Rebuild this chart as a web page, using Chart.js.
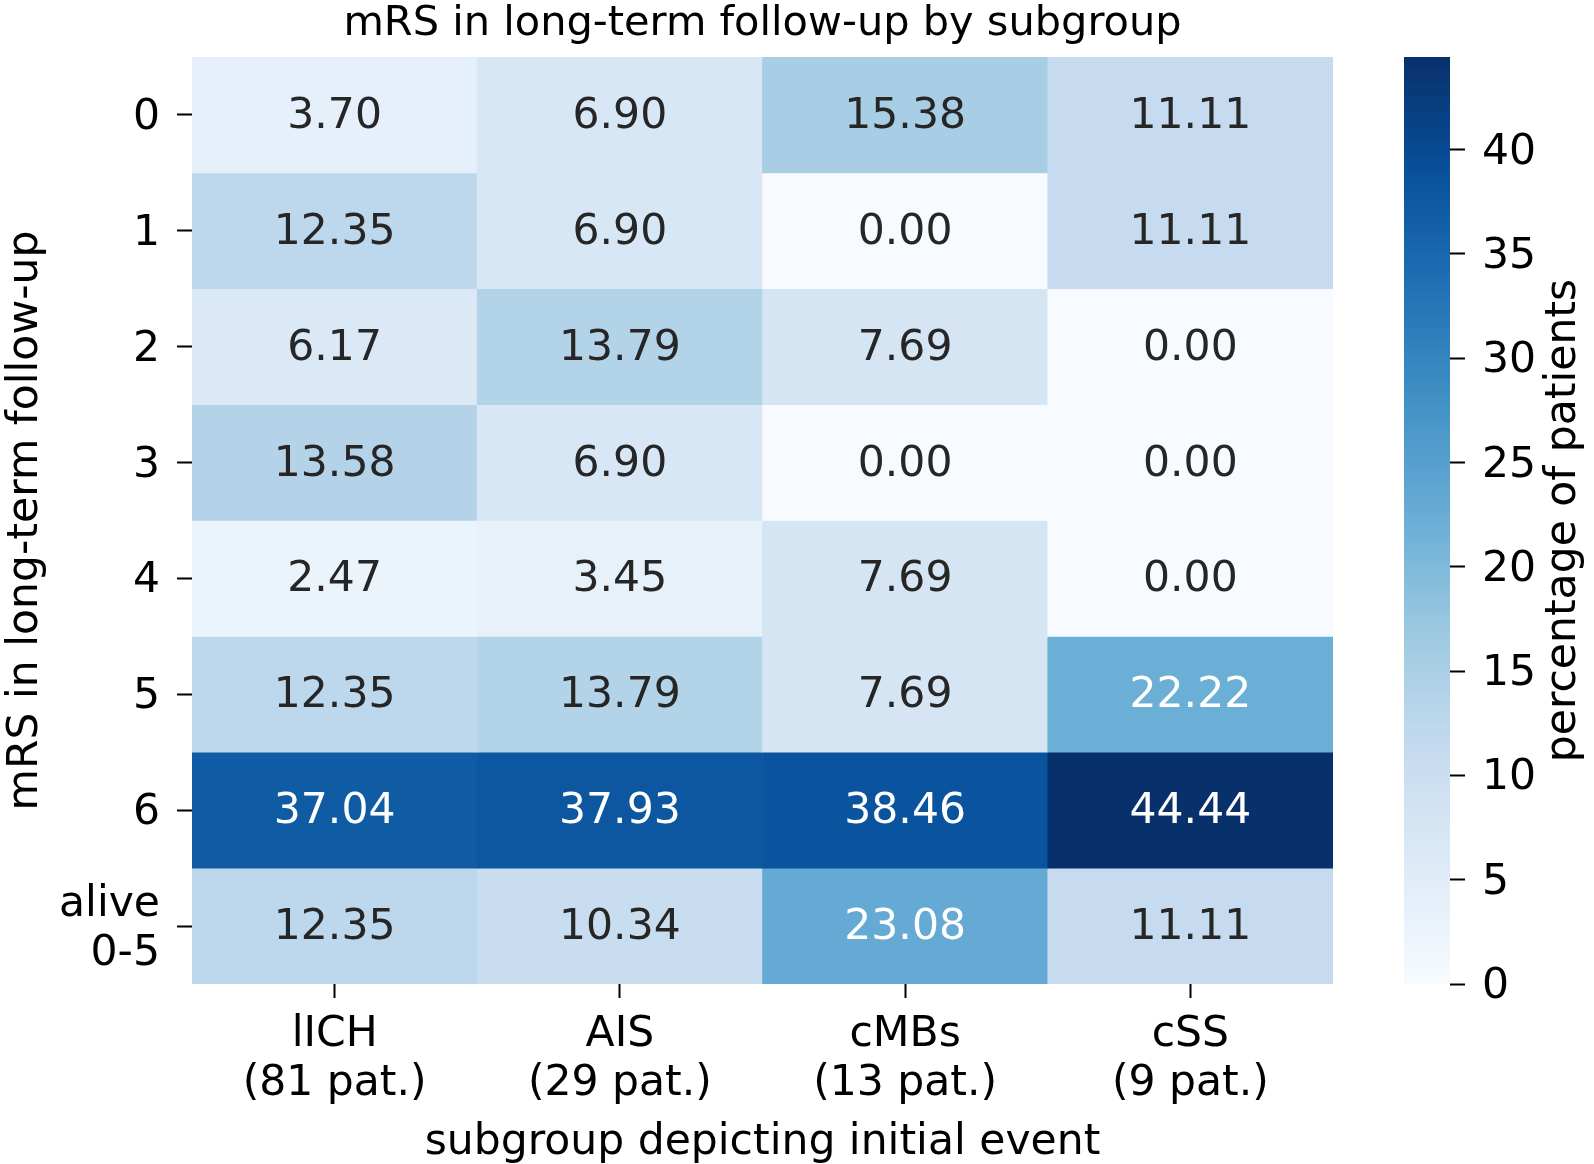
<!DOCTYPE html>
<html>
<head>
<meta charset="utf-8">
<script src="https://cdn.jsdelivr.net/npm/chart.js@4.4.0/dist/chart.umd.min.js"></script>
<style>
  html, body { margin: 0; padding: 0; background: #fff; }
  #wrap { position: relative; width: 1594px; height: 1164px; }
  #heat { position: absolute; left: 0; top: 0; }
  #cbar { position: absolute; left: 1340px; top: 0; }
</style>
</head>
<body>
<div id="wrap">
  <canvas id="heat" width="1594" height="1164" style="width:1594px;height:1164px"></canvas>
  <canvas id="cbar" width="254" height="1164" style="width:254px;height:1164px"></canvas>
</div>
<script>
var subgroups = [['lICH', '(81 pat.)'], ['AIS', '(29 pat.)'], ['cMBs', '(13 pat.)'], ['cSS', '(9 pat.)']];
var mrsLabels = ['0', '1', '2', '3', '4', '5', '6', ['alive', '0-5']];
var lichPct = [3.70, 12.35, 6.17, 13.58, 2.47, 12.35, 37.04, 12.35];
var aisPct = [6.90, 6.90, 13.79, 6.90, 3.45, 13.79, 37.93, 10.34];
var cmbsPct = [15.38, 0.00, 7.69, 0.00, 7.69, 7.69, 38.46, 23.08];
var cssPct = [11.11, 11.11, 0.00, 0.00, 0.00, 22.22, 44.44, 11.11];
var cbTicks = [0, 5, 10, 15, 20, 25, 30, 35, 40];

var columns = [lichPct, aisPct, cmbsPct, cssPct];
var vmax = Math.max.apply(null, [].concat(lichPct, aisPct, cmbsPct, cssPct));

// matplotlib "Blues"
var blues = [[247,251,255],[222,235,247],[198,219,239],[158,202,225],[107,174,214],[66,146,198],[33,113,181],[8,81,156],[8,48,107]];

function bluesRgb(t) {
  t = Math.max(0, Math.min(1, t)) * (blues.length - 1);
  var i = Math.min(Math.floor(t), blues.length - 2), f = t - i;
  return blues[i].map(function (a, k) { return Math.round(a + (blues[i + 1][k] - a) * f); });
}
function rgbStr(c) { return 'rgb(' + c.join(',') + ')'; }

// seaborn's rule for annotation colour
function textColor(v) {
  var lin = bluesRgb(v / vmax).map(function (x) {
    x = x / 255;
    return x <= 0.03928 ? x / 12.92 : Math.pow((x + 0.055) / 1.055, 2.4);
  });
  var lum = 0.2126 * lin[0] + 0.7152 * lin[1] + 0.0722 * lin[2];
  return lum > 0.408 ? '#262626' : '#ffffff';
}

var FONT = 'DejaVu Sans';
var FS = 42.5;      // ticks, labels, annotations
var TITLE_FS = 41.5;
Chart.defaults.font.family = FONT;
Chart.defaults.color = '#000';

var cellLabels = {
  id: 'cellLabels',
  afterDatasetsDraw: function (chart) {
    var ctx = chart.ctx;
    ctx.save();
    ctx.font = FS + 'px "' + FONT + '"';
    ctx.textAlign = 'center';
    ctx.textBaseline = 'middle';
    chart.data.datasets.forEach(function (ds, r) {
      chart.getDatasetMeta(r).data.forEach(function (bar, c) {
        var v = ds.values[c];
        var p = bar.getCenterPoint();
        ctx.fillStyle = textColor(v);
        ctx.fillText(v.toFixed(2), p.x, p.y + 2);
      });
    });
    ctx.restore();
  }
};

var heat = new Chart(document.getElementById('heat'), {
  type: 'bar',
  data: {
    labels: subgroups,
    datasets: mrsLabels.map(function (lab, r) {
      return {
        label: String(lab),
        data: columns.map(function () { return 1; }),
        values: columns.map(function (col) { return col[r]; }),
        backgroundColor: columns.map(function (col) { return rgbStr(bluesRgb(col[r] / vmax)); }),
        borderWidth: 0,
        barPercentage: 1,
        categoryPercentage: 1
      };
    })
  },
  options: {
    responsive: false,
    animation: false,
    layout: { padding: { left: 0, right: 261, top: 0, bottom: 0 } },
    plugins: {
      legend: { display: false },
      tooltip: { enabled: false },
      title: {
        display: true,
        fullSize: false,
        text: 'mRS in long-term follow-up by subgroup',
        color: '#000',
        font: { size: TITLE_FS, weight: 'normal', lineHeight: 1.0 },
        padding: { top: 3, bottom: 57 - TITLE_FS - 3 }
      }
    },
    scales: {
      x: {
        stacked: true,
        border: { display: false },
        grid: { drawOnChartArea: false, offset: false, tickLength: 14, tickWidth: 2, tickColor: '#000' },
        ticks: { font: { size: FS, lineHeight: 1.15 }, color: '#000', padding: 13, maxRotation: 0, autoSkip: false },
        title: { display: true, text: 'subgroup depicting initial event', color: '#000', font: { size: FS, lineHeight: 1.0 }, padding: { top: 0, bottom: 0 } },
        afterFit: function (s) { s.height = 180; s.paddingLeft = 0; s.paddingRight = 0; }
      },
      y: {
        stacked: true,
        reverse: true,
        min: 0,
        max: mrsLabels.length,
        border: { display: false },
        grid: { drawOnChartArea: false, tickLength: 15, tickWidth: 2, tickColor: '#000' },
        ticks: {
          font: { size: FS, lineHeight: 1.15 }, color: '#000', padding: 17, autoSkip: false, labelOffset: 3,
          callback: function (v, i) { return mrsLabels[i]; }
        },
        afterBuildTicks: function (s) {
          s.ticks = mrsLabels.map(function (l, i) { return { value: i + 0.5 }; });
        },
        title: { display: true, text: 'mRS in long-term follow-up', color: '#000', font: { size: FS, lineHeight: 1.2 }, padding: { top: 0 } },
        afterFit: function (s) { s.width = 192; s.paddingTop = 0; s.paddingBottom = 0; }
      }
    }
  },
  plugins: [cellLabels]
});

var cbLabel = {
  id: 'cbLabel',
  afterDraw: function (chart) {
    var ctx = chart.ctx, a = chart.chartArea;
    ctx.save();
    ctx.font = FS + 'px "' + FONT + '"';
    ctx.fillStyle = '#000';
    ctx.textAlign = 'center';
    ctx.textBaseline = 'middle';
    ctx.translate(224, (a.top + a.bottom) / 2);
    ctx.rotate(-Math.PI / 2);
    ctx.fillText('percentage of patients', 0, 0);
    ctx.restore();
  }
};

var cbar = new Chart(document.getElementById('cbar'), {
  type: 'bar',
  data: {
    labels: [''],
    datasets: [{
      data: [vmax],
      borderWidth: 0,
      barPercentage: 1,
      categoryPercentage: 1,
      backgroundColor: function (c) {
        var a = c.chart.chartArea;
        if (!a) return rgbStr(blues[4]);
        var g = c.chart.ctx.createLinearGradient(0, a.bottom, 0, a.top);
        blues.forEach(function (col, i) { g.addColorStop(i / (blues.length - 1), rgbStr(col)); });
        return g;
      }
    }]
  },
  options: {
    responsive: false,
    animation: false,
    layout: { padding: { left: 64, right: 0, top: 57, bottom: 180 } },
    plugins: { legend: { display: false }, tooltip: { enabled: false } },
    scales: {
      x: { display: false },
      y: {
        position: 'right',
        min: 0,
        max: vmax,
        border: { display: false },
        grid: { drawOnChartArea: false, tickLength: 15, tickWidth: 2, tickColor: '#000' },
        ticks: { font: { size: FS }, color: '#000', padding: 17, labelOffset: 3 },
        afterBuildTicks: function (s) {
          s.ticks = cbTicks.map(function (v) { return { value: v }; });
        },
        afterFit: function (s) { s.width = 144; s.paddingTop = 0; s.paddingBottom = 0; }
      }
    }
  },
  plugins: [cbLabel]
});
</script>
</body>
</html>
